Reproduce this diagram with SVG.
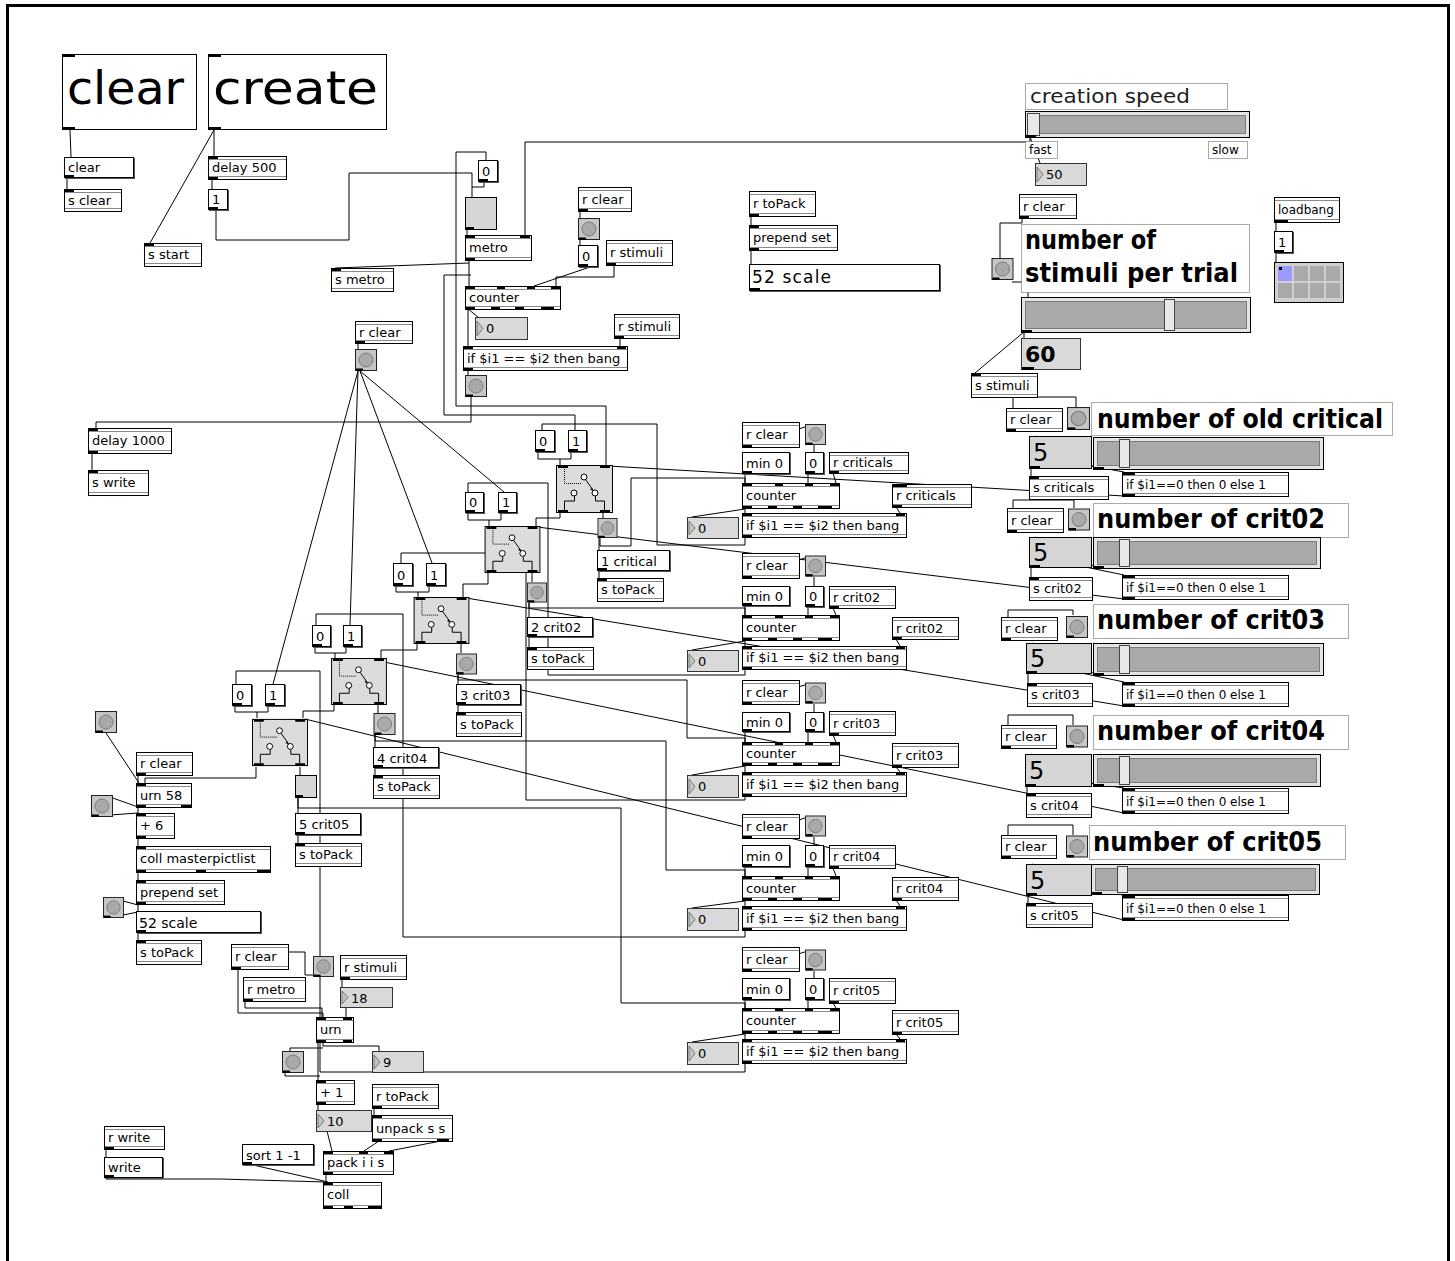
<svg xmlns="http://www.w3.org/2000/svg" xmlns:xlink="http://www.w3.org/1999/xlink" width="1455" height="1261" viewBox="0 0 1455 1261">
<defs>
<style>
text{font-family:"DejaVu Sans","Liberation Sans",sans-serif;font-size:13px;fill:#000}
.o{fill:#fff;stroke:#000}
.d{stroke:#8a8a8a;fill:none}
.io{fill:#000}
.m{fill:#fff;stroke:#000}
.sh{fill:#555}
.n{fill:#d9d9d9;stroke:#333}
.tr{fill:#c4c4c4;stroke:#777}
.c{fill:#fff;stroke:#555;stroke-dasharray:1 1}
.w{fill:none;stroke:#000;stroke-width:1}
.big{font-size:26px;font-weight:bold}
.s12{font-size:12px}
.f46{font-size:46px}
.f20{font-size:20px;fill:#222}
.f17{font-size:17px}
.f22{font-size:22px;font-weight:bold}
.f24{font-size:24px}
.f14{font-size:14px}
.sl{fill:#e4e4e4;stroke:#000}
.si{fill:#a9a9a9;stroke:#7a7a7a}
.kn{fill:#e8e8e8;stroke:#444}
.fv{fill:#d5d5d5;stroke:#000}
</style>
<symbol id="bang" viewBox="0 0 22 22" overflow="visible">
<rect x=".5" y=".5" width="21" height="21" fill="#c6c6c6" stroke="#222"/>
<circle cx="11" cy="11" r="7" fill="#a9a9a9" stroke="#7c7c7c"/>
<rect x="1" y="19.5" width="7" height="2.5" fill="#000"/>
</symbol>
<symbol id="gate" viewBox="0 0 57 48" overflow="visible">
<rect x=".5" y=".5" width="56" height="47" fill="#dcdcdc" stroke="#000"/>
<path d="M8.5,4v14.5h17" stroke="#000" stroke-dasharray="1 1" fill="none"/>
<path d="M29.5,14.5L37,25" stroke="#000"/>
<path d="M37.5,26l-3.5-1.5l2,-1.5z" fill="#000"/>
<circle cx="28" cy="12" r="3" fill="#fff" stroke="#000"/>
<circle cx="18" cy="28" r="3" fill="#fff" stroke="#000"/>
<circle cx="39" cy="28" r="3" fill="#fff" stroke="#000"/>
<path d="M18.5,31v5h-10v9M39.5,31v5h9v9" stroke="#000" fill="none"/>
<path d="M2,0h10v3h-10zM44,0h10v3h-10zM2,45h10v3h-10zM44,45h10v3h-10z" fill="#000"/>
</symbol>
</defs>
<rect width="1455" height="1261" fill="#fff"/>
<rect x="7.5" y="5.5" width="1441" height="1300" fill="none" stroke="#000" stroke-width="3"/>

<g id="connectors" class="w">
<polyline points="70,130 71,157"/>
<polyline points="67,178 67,189"/>
<polyline points="214,130 214,156"/>
<polyline points="214,130 150,243"/>
<polyline points="212,179 212,189"/>
<polyline points="216,210 216,240 349,240 349,173 472,173 472,197"/>
<polyline points="484,182 484,187 472,187"/>
<polyline points="456,406 456,152 486,152 486,160"/>
<polyline points="467,229 467,235"/>
<polyline points="525,235 525,142 1030,142 1030,137"/>
<polyline points="1030,137 1040,163"/>
<polyline points="469,260 469,286"/>
<polyline points="469,263 335,268"/>
<polyline points="471,275 444,275 444,415 575,415 575,430"/>
<polyline points="456,406 606,406 606,465"/>
<polyline points="580,211 580,218"/>
<polyline points="580,240 580,245"/>
<polyline points="590,267 534,286"/>
<polyline points="614,265 614,277 556,277 556,286"/>
<polyline points="468,309 478,317"/>
<polyline points="468,309 468,346"/>
<polyline points="620,338 620,346"/>
<polyline points="468,370 468,375"/>
<polyline points="471,397 471,422 96,422 96,428"/>
<polyline points="92,453 92,470"/>
<polyline points="358,343 358,349"/>
<polyline points="358,371 273,684"/>
<polyline points="358,371 350,625"/>
<polyline points="360,371 432,563"/>
<polyline points="360,371 504,492"/>
<polyline points="751,216 751,225"/>
<polyline points="751,250 751,264"/>
<polyline points="1022,218 1022,223 1000,223 1000,258"/>
<polyline points="1012,282 1028,282 1028,297"/>
<polyline points="1024,332 975,373"/>
<polyline points="1024,332 1024,338"/>
<polyline points="1276,222 1276,231"/>
<polyline points="1276,253 1276,262"/>
<polyline points="538,452 538,459 560,459 560,465"/>
<polyline points="571,452 571,459 560,459"/>
<polyline points="468,513 468,520 489,520 489,526"/>
<polyline points="501,513 501,520 489,520"/>
<polyline points="396,586 396,592 418,592 418,597"/>
<polyline points="429,586 429,592 418,592"/>
<polyline points="315,647 315,653 335,653 335,658"/>
<polyline points="346,647 346,653 335,653"/>
<polyline points="235,706 235,712 257,712 257,718"/>
<polyline points="268,706 268,712 257,712"/>
<polyline points="560,513 560,518 536,518 536,526"/>
<polyline points="488,573 488,584 463,584 463,597"/>
<polyline points="417,644 417,650 381,650 381,658"/>
<polyline points="334,705 334,711 303,711 303,718"/>
<polyline points="256,767 256,778 145,778 145,783"/>
<polyline points="603,513 603,518"/>
<polyline points="599,538 599,550"/>
<polyline points="599,571 599,578"/>
<polyline points="532,573 532,582"/>
<polyline points="529,603 529,617"/>
<polyline points="529,637 529,647"/>
<polyline points="461,644 461,653"/>
<polyline points="458,675 458,684"/>
<polyline points="458,705 458,712"/>
<polyline points="378,705 378,713"/>
<polyline points="375,735 375,747"/>
<polyline points="375,768 375,775"/>
<polyline points="300,767 300,775"/>
<polyline points="298,797 298,813"/>
<polyline points="298,835 298,843"/>
<polyline points="600,538 600,546 631,546 631,478 745,478 745,483"/>
<polyline points="529,603 529,608 745,608 745,615"/>
<polyline points="458,675 458,680 687,680 687,738 745,738 745,742"/>
<polyline points="375,735 375,741 666,741 666,870 745,870 745,876"/>
<polyline points="298,797 298,808 621,808 621,1003 745,1003 745,1008"/>
<polyline points="745,537 745,545 657,545 657,424 542,424 542,430"/>
<polyline points="745,669 745,675 548,675 548,483 468,483 468,492"/>
<polyline points="745,796 745,800 526,800 526,553 401,553 401,563"/>
<polyline points="745,930 745,937 403,937 403,614 316,614 316,625"/>
<polyline points="745,1063 745,1072 320,1072 320,671 236,671 236,684"/>
<polyline points="1124,496 608,466"/>
<polyline points="1124,599 537,527"/>
<polyline points="1124,706 466,598"/>
<polyline points="1124,813 384,662"/>
<polyline points="1124,920 305,719"/>
<polyline points="746,446 808,426"/><polyline points="814,445 814,452"/><polyline points="808,474 808,483"/><polyline points="745,474 745,483"/><polyline points="833,473 836,483"/><polyline points="745,508 745,513"/><polyline points="745,509 692,517"/><polyline points="896,507 900,513"/>
<polyline points="746,577 808,557"/><polyline points="814,577 814,586"/><polyline points="808,607 808,615"/><polyline points="745,606 745,615"/><polyline points="833,608 836,615"/><polyline points="745,640 745,646"/><polyline points="745,641 692,650"/><polyline points="896,639 900,646"/>
<polyline points="746,703 808,684"/><polyline points="814,704 814,712"/><polyline points="808,732 808,742"/><polyline points="745,732 745,742"/><polyline points="833,735 836,742"/><polyline points="745,765 745,772"/><polyline points="745,766 692,775"/><polyline points="896,767 900,772"/>
<polyline points="746,837 808,817"/><polyline points="814,837 814,845"/><polyline points="808,867 808,876"/><polyline points="745,867 745,876"/><polyline points="833,868 836,876"/><polyline points="745,900 745,906"/><polyline points="745,901 692,908"/><polyline points="896,900 900,906"/>
<polyline points="746,970 808,951"/><polyline points="814,971 814,978"/><polyline points="808,1000 808,1008"/><polyline points="745,1000 745,1008"/><polyline points="833,1003 836,1008"/><polyline points="745,1033 745,1039"/><polyline points="745,1034 692,1042"/><polyline points="896,1034 900,1039"/>
<polyline points="1013,431 1013,397 1076,397 1076,407"/>
<polyline points="1013,532 1013,500 1074,500 1074,508"/>
<polyline points="1008,640 1008,610 1073,610 1073,615"/>
<polyline points="1008,748 1008,715 1073,715 1073,725"/>
<polyline points="1008,858 1008,825 1073,825 1073,835"/>
<polyline points="1096,468 1035,436"/><polyline points="1031,468 1031,476"/><polyline points="1037,456 1124,472"/>
<polyline points="1096,567 1035,537"/><polyline points="1031,567 1031,577"/><polyline points="1037,557 1124,575"/>
<polyline points="1096,674 1032,643"/><polyline points="1028,673 1028,683"/><polyline points="1034,663 1124,682"/>
<polyline points="1096,785 1031,754"/><polyline points="1027,786 1027,793"/><polyline points="1033,775 1124,788"/>
<polyline points="1094,893 1032,864"/><polyline points="1028,895 1028,903"/><polyline points="1034,884 1124,895"/>
<polyline points="106,733 139,783"/>
<polyline points="138,775 138,783"/>
<polyline points="138,807 110,797"/>
<polyline points="110,815 138,813"/>
<polyline points="138,807 138,813"/>
<polyline points="138,838 138,846"/>
<polyline points="138,872 138,880"/>
<polyline points="138,904 138,911"/>
<polyline points="123,901 138,905"/>
<polyline points="123,915 138,912"/>
<polyline points="138,933 138,940"/>
<polyline points="238,969 238,1013 323,1013 323,1017"/>
<polyline points="288,952 305,952 305,975 313,975"/>
<polyline points="245,1001 245,1008 322,1008 322,1017"/>
<polyline points="342,979 342,987"/>
<polyline points="346,1007 346,1017"/>
<polyline points="323,1042 323,1046 379,1046 379,1051"/>
<polyline points="290,1051 290,1048 323,1048"/>
<polyline points="285,1073 285,1076 320,1076"/>
<polyline points="318,1042 318,1080"/>
<polyline points="318,1104 318,1110"/>
<polyline points="327,1131 332,1151"/>
<polyline points="374,1108 374,1115"/>
<polyline points="379,1141 364,1151"/>
<polyline points="441,1141 389,1151"/>
<polyline points="326,1174 326,1182"/>
<polyline points="253,1165 328,1182"/>
<polyline points="106,1149 106,1157"/>
<polyline points="106,1179 220,1179 326,1182"/>
</g>

<g id="n_clearbig"><rect class="m" x="62.5" y="54.5" width="134" height="75"/><path class="io" d="M63,55h12v2h-12zM63,127h12v3h-12z"/><text x="67" y="104" class="f46" textLength="117" lengthAdjust="spacingAndGlyphs">clear</text></g>
<g id="n_createbig"><rect class="m" x="208.5" y="54.5" width="178" height="75"/><path class="io" d="M209,55h12v2h-12zM209,127h12v3h-12z"/><text x="213" y="104" class="f46" textLength="165" lengthAdjust="spacingAndGlyphs">create</text></g>
<g id="n_clearmsg"><rect class="sh" x="65" y="158" width="70" height="21"/><rect class="m" x="64.5" y="157.5" width="69" height="20"/><path class="io" d="M65,175h9v3h-9z"/><text x="68" y="172">clear</text></g>
<g id="n_sclear"><rect class="o" x="64.5" y="189.5" width="57" height="22"/><path class="d" d="M65,192.5h56M65,208.5h56"/><path class="io" d="M65,190h9v2h-9z"/><text x="68" y="205">s clear</text></g>
<g id="n_delay500"><rect class="o" x="208.5" y="156.5" width="78" height="23"/><path class="d" d="M209,159.5h77M209,176.5h77"/><path class="io" d="M209,157h9v2h-9zM209,177h9v3h-9z"/><text x="212" y="172">delay 500</text></g>
<g id="n_one"><rect class="sh" x="209" y="190" width="20" height="21"/><rect class="m" x="208.5" y="189.5" width="19" height="20"/><path class="io" d="M209,207h9v3h-9z"/><text x="212" y="204">1</text></g>
<g id="n_sstart"><rect class="o" x="144.5" y="243.5" width="57" height="23"/><path class="d" d="M145,246.5h56M145,263.5h56"/><path class="io" d="M145,244h9v2h-9z"/><text x="148" y="259">s start</text></g>
<g id="n_smetro"><rect class="o" x="331.5" y="268.5" width="62" height="23"/><path class="d" d="M332,271.5h61M332,288.5h61"/><path class="io" d="M332,269h9v2h-9z"/><text x="335" y="284">s metro</text></g>

<g id="n_zero1"><rect class="sh" x="479" y="161" width="20" height="22"/><rect class="m" x="478.5" y="160.5" width="19" height="21"/><path class="io" d="M479,179h9v3h-9z"/><text x="482" y="176">0</text></g>
<g id="n_toggle"><rect x="465.5" y="197.5" width="31" height="32" fill="#d6d6d6" stroke="#000"/><path class="io" d="M466,227h8v3h-8z"/></g>
<g id="n_metro"><rect class="o" x="465.5" y="235.5" width="66" height="25"/><path class="d" d="M466,238.5h65M466,257.5h65"/><path class="io" d="M466,236h9v2h-9zM520,236h10v2h-10zM466,258h9v3h-9z"/><text x="469" y="252">metro</text></g>
<g id="n_rclear1"><rect class="o" x="578.5" y="187.5" width="53" height="24"/><path class="d" d="M579,190.5h52M579,208.5h52"/><path class="io" d="M579,209h9v3h-9z"/><text x="582" y="204">r clear</text></g>
<g id="n_bang1"><use href="#bang" x="578" y="218" width="22" height="22"/></g>
<g id="n_zero2"><rect class="sh" x="579" y="246" width="20" height="22"/><rect class="m" x="578.5" y="245.5" width="19" height="21"/><path class="io" d="M579,264h9v3h-9z"/><text x="582" y="261">0</text></g>
<g id="n_rstim1"><rect class="o" x="606.5" y="240.5" width="66" height="25"/><path class="d" d="M607,243.5h65M607,262.5h65"/><path class="io" d="M607,263h9v3h-9z"/><text x="610" y="257">r stimuli</text></g>
<g id="n_counter0"><rect class="o" x="465.5" y="286.5" width="95" height="23"/><path class="d" d="M466,289.5h94M466,306.5h94"/><path class="io" d="M466,287h9v2h-9zM497,287h8v2h-8zM527,287h8v2h-8zM551,287h9v2h-9zM466,307h9v3h-9zM491,307h9v3h-9zM515,307h9v3h-9zM541,307h13v3h-13z"/><text x="469" y="302">counter</text></g>
<g id="n_num0"><rect class="n" x="475.5" y="317.5" width="52" height="22"/><path class="tr" d="M477,321L483,328.5L477,336z"/><text x="486" y="333">0</text></g>
<g id="n_rstim2"><rect class="o" x="614.5" y="314.5" width="65" height="24"/><path class="d" d="M615,317.5h64M615,335.5h64"/><path class="io" d="M615,336h9v3h-9z"/><text x="618" y="331">r stimuli</text></g>
<g id="n_if0"><rect class="o" x="463.5" y="346.5" width="164" height="24"/><path class="d" d="M464,349.5h163M464,367.5h163"/><path class="io" d="M464,347h9v2h-9zM617,347h9v2h-9zM464,368h9v3h-9z"/><text x="467" y="363">if $i1 == $i2 then bang</text></g>
<g id="n_bang2"><use href="#bang" x="465" y="375" width="22" height="22"/></g>
<g id="n_rclear2"><rect class="o" x="355.5" y="321.5" width="57" height="22"/><path class="d" d="M356,324.5h56M356,340.5h56"/><path class="io" d="M356,341h9v3h-9z"/><text x="359" y="337">r clear</text></g>
<g id="n_bang3"><use href="#bang" x="355" y="349" width="22" height="22"/></g>
<g id="n_delay1000"><rect class="o" x="88.5" y="428.5" width="83" height="25"/><path class="d" d="M89,431.5h82M89,450.5h82"/><path class="io" d="M89,429h9v2h-9zM89,451h9v3h-9z"/><text x="92" y="445">delay 1000</text></g>
<g id="n_swrite"><rect class="o" x="88.5" y="470.5" width="60" height="25"/><path class="d" d="M89,473.5h59M89,492.5h59"/><path class="io" d="M89,471h9v2h-9z"/><text x="92" y="487">s write</text></g>

<g id="n_rtopack1"><rect class="o" x="749.5" y="191.5" width="66" height="25"/><path class="d" d="M750,194.5h65M750,213.5h65"/><path class="io" d="M750,214h9v3h-9z"/><text x="753" y="208">r toPack</text></g>
<g id="n_prepend1"><rect class="o" x="749.5" y="225.5" width="88" height="25"/><path class="d" d="M750,228.5h87M750,247.5h87"/><path class="io" d="M750,226h9v2h-9zM750,248h9v3h-9z"/><text x="753" y="242">prepend set</text></g>
<g id="n_52scale1"><rect class="sh" x="750" y="265" width="191" height="27"/><rect class="m" x="749.5" y="264.5" width="190" height="26"/><path class="io" d="M750,288h10v3h-10z"/><text x="752" y="283" class="f17" textLength="79">52 scale</text></g>

<g id="n_cspeed"><rect class="c" x="1025.5" y="83.5" width="202" height="26"/><text x="1030" y="103" class="f20" textLength="160" lengthAdjust="spacingAndGlyphs">creation speed</text></g>
<g id="n_slider0"><rect class="sl" x="1025.5" y="111.5" width="224" height="26"/><rect class="si" x="1029.5" y="115.5" width="216" height="18"/><rect class="kn" x="1027.5" y="113.5" width="12" height="22"/><path class="io" d="M1026,135h10v3h-10z"/></g>
<g id="n_fast"><rect class="c" x="1025.5" y="141.5" width="32" height="17"/><text x="1029" y="154" class="s12">fast</text></g>
<g id="n_slow"><rect class="c" x="1208.5" y="141.5" width="39" height="17"/><text x="1212" y="154" class="s12">slow</text></g>
<g id="n_num50"><rect class="n" x="1035.5" y="163.5" width="51" height="22"/><path class="tr" d="M1037,167L1043,174.5L1037,182z"/><text x="1046" y="179">50</text></g>
<g id="n_rclear3"><rect class="o" x="1019.5" y="194.5" width="57" height="24"/><path class="d" d="M1020,197.5h56M1020,215.5h56"/><path class="io" d="M1020,216h9v3h-9z"/><text x="1023" y="211">r clear</text></g>
<g id="n_bang4"><use href="#bang" x="991" y="258" width="23" height="22"/></g>
<g id="n_nstim"><rect class="c" x="1021.5" y="224.5" width="228" height="68"/><text x="1025" y="249" class="big" textLength="131" lengthAdjust="spacingAndGlyphs">number of</text><text x="1025" y="282" class="big" textLength="213" lengthAdjust="spacingAndGlyphs">stimuli per trial</text></g>
<g id="n_slider1"><rect class="sl" x="1021.5" y="297.5" width="229" height="35"/><rect class="si" x="1025.5" y="301.5" width="221" height="27"/><rect class="kn" x="1164.5" y="299.5" width="10" height="31"/><path class="io" d="M1022,330h10v3h-10z"/></g>
<g id="n_num60"><rect class="n" x="1021.5" y="338.5" width="59" height="31"/><text x="1025" y="362" class="f22">60</text><path class="io" d="M1022,367h12v3h-12z"/></g>
<g id="n_sstim"><rect class="o" x="971.5" y="373.5" width="66" height="24"/><path class="d" d="M972,376.5h65M972,394.5h65"/><path class="io" d="M972,374h9v2h-9z"/><text x="975" y="390">s stimuli</text></g>
<g id="n_loadbang"><rect class="o" x="1274.5" y="197.5" width="65" height="25"/><path class="d" d="M1275,200.5h64M1275,219.5h64"/><path class="io" d="M1275,220h13v3h-13z"/><text x="1278" y="214" class="s12">loadbang</text></g>
<g id="n_one2"><rect class="sh" x="1275" y="232" width="19" height="22"/><rect class="m" x="1274.5" y="231.5" width="18" height="21"/><path class="io" d="M1275,250h9v3h-9z"/><text x="1278" y="247">1</text></g>
<g id="n_matrix"><rect x="1274.5" y="262.5" width="69" height="40" fill="#cfcfcf" stroke="#000"/>
<rect x="1278" y="266" width="14" height="15" fill="#9a9aff"/><rect x="1294" y="266" width="14" height="15" fill="#a9a9a9"/><rect x="1310" y="266" width="14" height="15" fill="#a9a9a9"/><rect x="1326" y="266" width="14" height="15" fill="#a9a9a9"/>
<rect x="1278" y="283" width="14" height="15" fill="#a9a9a9"/><rect x="1294" y="283" width="14" height="15" fill="#a9a9a9"/><rect x="1310" y="283" width="14" height="15" fill="#a9a9a9"/><rect x="1326" y="283" width="14" height="15" fill="#a9a9a9"/>
<rect x="1279" y="267" width="3" height="3" fill="#000"/></g>

<g id="n_r1_rclear"><rect class="o" x="1006.5" y="408.5" width="56" height="23"/><path class="d" d="M1007,411.5h55M1007,428.5h55"/><path class="io" d="M1007,429h9v3h-9z"/><text x="1010" y="424">r clear</text></g>
<g id="n_r1_bang"><use href="#bang" x="1067" y="407" width="23" height="23"/></g>
<g id="n_r1_cmt"><rect class="c" x="1091.5" y="402.5" width="301" height="33"/><text x="1097" y="428" class="big" textLength="286" lengthAdjust="spacingAndGlyphs">number of old critical</text></g>
<g id="n_r1_five"><rect class="fv" x="1029.5" y="436.5" width="62" height="32"/><text x="1033" y="461" class="f24">5</text><path class="io" d="M1030,466h10v3h-10z"/></g>
<g id="n_r1_slider"><rect class="sl" x="1093.5" y="437.5" width="230" height="32"/><rect class="si" x="1097.5" y="441.5" width="222" height="24"/><rect class="kn" x="1119.5" y="439.5" width="10" height="28"/><path class="io" d="M1094,467h10v3h-10z"/></g>
<g id="n_r1_send"><rect class="o" x="1029.5" y="476.5" width="79" height="23"/><path class="d" d="M1030,479.5h78M1030,496.5h78"/><path class="io" d="M1030,477h9v2h-9z"/><text x="1033" y="492">s criticals</text></g>
<g id="n_r1_if"><rect class="o" x="1122.5" y="472.5" width="166" height="24"/><path class="d" d="M1123,475.5h165M1123,493.5h165"/><path class="io" d="M1123,473h12v2h-12zM1123,494h12v3h-12z"/><text x="1126" y="489" class="s12">if $i1==0 then 0 else 1</text></g>

<g id="n_r2_rclear"><rect class="o" x="1007.5" y="508.5" width="56" height="24"/><path class="d" d="M1008,511.5h55M1008,529.5h55"/><path class="io" d="M1008,530h9v3h-9z"/><text x="1011" y="525">r clear</text></g>
<g id="n_r2_bang"><use href="#bang" x="1068" y="508" width="22" height="23"/></g>
<g id="n_r2_cmt"><rect class="c" x="1093.5" y="503.5" width="255" height="34"/><text x="1097" y="528" class="big" textLength="228" lengthAdjust="spacingAndGlyphs">number of crit02</text></g>
<g id="n_r2_five"><rect class="fv" x="1029.5" y="537.5" width="62" height="30"/><text x="1033" y="561" class="f24">5</text><path class="io" d="M1030,565h10v3h-10z"/></g>
<g id="n_r2_slider"><rect class="sl" x="1093.5" y="537.5" width="227" height="31"/><rect class="si" x="1097.5" y="541.5" width="219" height="23"/><rect class="kn" x="1119.5" y="539.5" width="10" height="27"/><path class="io" d="M1094,566h10v3h-10z"/></g>
<g id="n_r2_send"><rect class="o" x="1029.5" y="577.5" width="63" height="23"/><path class="d" d="M1030,580.5h62M1030,597.5h62"/><path class="io" d="M1030,578h9v2h-9z"/><text x="1033" y="593">s crit02</text></g>
<g id="n_r2_if"><rect class="o" x="1122.5" y="575.5" width="166" height="24"/><path class="d" d="M1123,578.5h165M1123,596.5h165"/><path class="io" d="M1123,576h12v2h-12zM1123,597h12v3h-12z"/><text x="1126" y="592" class="s12">if $i1==0 then 0 else 1</text></g>

<g id="n_r3_rclear"><rect class="o" x="1001.5" y="617.5" width="56" height="23"/><path class="d" d="M1002,620.5h55M1002,637.5h55"/><path class="io" d="M1002,638h9v3h-9z"/><text x="1005" y="633">r clear</text></g>
<g id="n_r3_bang"><use href="#bang" x="1066" y="615" width="22" height="24"/></g>
<g id="n_r3_cmt"><rect class="c" x="1093.5" y="604.5" width="255" height="34"/><text x="1097" y="629" class="big" textLength="228" lengthAdjust="spacingAndGlyphs">number of crit03</text></g>
<g id="n_r3_five"><rect class="fv" x="1026.5" y="643.5" width="65" height="30"/><text x="1030" y="667" class="f24">5</text><path class="io" d="M1027,671h10v3h-10z"/></g>
<g id="n_r3_slider"><rect class="sl" x="1093.5" y="643.5" width="230" height="32"/><rect class="si" x="1097.5" y="647.5" width="222" height="24"/><rect class="kn" x="1119.5" y="645.5" width="10" height="28"/><path class="io" d="M1094,673h10v3h-10z"/></g>
<g id="n_r3_send"><rect class="o" x="1027.5" y="683.5" width="65" height="23"/><path class="d" d="M1028,686.5h64M1028,703.5h64"/><path class="io" d="M1028,684h9v2h-9z"/><text x="1031" y="699">s crit03</text></g>
<g id="n_r3_if"><rect class="o" x="1122.5" y="682.5" width="166" height="24"/><path class="d" d="M1123,685.5h165M1123,703.5h165"/><path class="io" d="M1123,683h12v2h-12zM1123,704h12v3h-12z"/><text x="1126" y="699" class="s12">if $i1==0 then 0 else 1</text></g>

<g id="n_r4_rclear"><rect class="o" x="1001.5" y="725.5" width="55" height="23"/><path class="d" d="M1002,728.5h54M1002,745.5h54"/><path class="io" d="M1002,746h9v3h-9z"/><text x="1005" y="741">r clear</text></g>
<g id="n_r4_bang"><use href="#bang" x="1066" y="725" width="22" height="23"/></g>
<g id="n_r4_cmt"><rect class="c" x="1093.5" y="715.5" width="255" height="34"/><text x="1097" y="740" class="big" textLength="228" lengthAdjust="spacingAndGlyphs">number of crit04</text></g>
<g id="n_r4_five"><rect class="fv" x="1025.5" y="754.5" width="66" height="32"/><text x="1029" y="779" class="f24">5</text><path class="io" d="M1026,784h10v3h-10z"/></g>
<g id="n_r4_slider"><rect class="sl" x="1093.5" y="754.5" width="227" height="32"/><rect class="si" x="1097.5" y="758.5" width="219" height="24"/><rect class="kn" x="1119.5" y="756.5" width="10" height="28"/><path class="io" d="M1094,784h10v3h-10z"/></g>
<g id="n_r4_send"><rect class="o" x="1026.5" y="793.5" width="65" height="24"/><path class="d" d="M1027,796.5h64M1027,814.5h64"/><path class="io" d="M1027,794h9v2h-9z"/><text x="1030" y="810">s crit04</text></g>
<g id="n_r4_if"><rect class="o" x="1122.5" y="788.5" width="166" height="25"/><path class="d" d="M1123,791.5h165M1123,810.5h165"/><path class="io" d="M1123,789h12v2h-12zM1123,811h12v3h-12z"/><text x="1126" y="806" class="s12">if $i1==0 then 0 else 1</text></g>

<g id="n_r5_rclear"><rect class="o" x="1001.5" y="835.5" width="55" height="23"/><path class="d" d="M1002,838.5h54M1002,855.5h54"/><path class="io" d="M1002,856h9v3h-9z"/><text x="1005" y="851">r clear</text></g>
<g id="n_r5_bang"><use href="#bang" x="1066" y="835" width="22" height="23"/></g>
<g id="n_r5_cmt"><rect class="c" x="1089.5" y="825.5" width="256" height="34"/><text x="1093" y="851" class="big" textLength="229" lengthAdjust="spacingAndGlyphs">number of crit05</text></g>
<g id="n_r5_five"><rect class="fv" x="1026.5" y="864.5" width="65" height="31"/><text x="1030" y="889" class="f24">5</text><path class="io" d="M1027,893h10v3h-10z"/></g>
<g id="n_r5_slider"><rect class="sl" x="1091.5" y="864.5" width="228" height="30"/><rect class="si" x="1095.5" y="868.5" width="220" height="22"/><rect class="kn" x="1117.5" y="866.5" width="10" height="26"/><path class="io" d="M1092,892h10v3h-10z"/></g>
<g id="n_r5_send"><rect class="o" x="1026.5" y="903.5" width="66" height="24"/><path class="d" d="M1027,906.5h65M1027,924.5h65"/><path class="io" d="M1027,904h9v2h-9z"/><text x="1030" y="920">s crit05</text></g>
<g id="n_r5_if"><rect class="o" x="1122.5" y="895.5" width="166" height="25"/><path class="d" d="M1123,898.5h165M1123,917.5h165"/><path class="io" d="M1123,896h12v2h-12zM1123,918h12v3h-12z"/><text x="1126" y="913" class="s12">if $i1==0 then 0 else 1</text></g>

<g id="n_m1_rclear"><rect class="o" x="742.5" y="422.5" width="57" height="25"/><path class="d" d="M743,425.5h56M743,444.5h56"/><path class="io" d="M743,445h9v3h-9z"/><text x="746" y="439">r clear</text></g>
<g id="n_m1_bang"><use href="#bang" x="805" y="424" width="21" height="21"/></g>
<g id="n_m1_min"><rect class="sh" x="743" y="453" width="48" height="22"/><rect class="m" x="742.5" y="452.5" width="47" height="21"/><path class="io" d="M743,471h9v3h-9z"/><text x="746" y="468">min 0</text></g>
<g id="n_m1_zero"><rect class="sh" x="806" y="453" width="19" height="22"/><rect class="m" x="805.5" y="452.5" width="18" height="21"/><path class="io" d="M806,471h9v3h-9z"/><text x="809" y="468">0</text></g>
<g id="n_m1_r"><rect class="o" x="829.5" y="452.5" width="79" height="21"/><path class="d" d="M830,455.5h78M830,470.5h78"/><path class="io" d="M830,471h9v3h-9z"/><text x="833" y="467">r criticals</text></g>
<g id="n_m1_counter"><rect class="o" x="742.5" y="483.5" width="97" height="25"/><path class="d" d="M743,486.5h96M743,505.5h96"/><path class="io" d="M743,484h9v2h-9zM775,484h8v2h-8zM805,484h8v2h-8zM830,484h9v2h-9zM743,506h9v3h-9zM768,506h9v3h-9zM793,506h9v3h-9zM818,506h14v3h-14z"/><text x="746" y="500">counter</text></g>
<g id="n_m1_r2"><rect class="o" x="892.5" y="484.5" width="79" height="23"/><path class="d" d="M893,487.5h78M893,504.5h78"/><path class="io" d="M893,485h14v2h-14zM893,505h9v3h-9z"/><text x="896" y="500">r criticals</text></g>
<g id="n_m1_if"><rect class="o" x="742.5" y="513.5" width="164" height="24"/><path class="d" d="M743,516.5h163M743,534.5h163"/><path class="io" d="M743,514h9v2h-9zM896,514h9v2h-9zM743,535h9v3h-9z"/><text x="746" y="530">if $i1 == $i2 then bang</text></g>
<g id="n_m1_num"><rect class="n" x="687.5" y="517.5" width="51" height="21"/><path class="tr" d="M689,521L695,528L689,535z"/><text x="698" y="533">0</text></g>

<g id="n_m2_rclear"><rect class="o" x="742.5" y="553.5" width="57" height="25"/><path class="d" d="M743,556.5h56M743,575.5h56"/><path class="io" d="M743,576h9v3h-9z"/><text x="746" y="570">r clear</text></g>
<g id="n_m2_bang"><use href="#bang" x="805" y="555" width="21" height="22"/></g>
<g id="n_m2_min"><rect class="sh" x="743" y="587" width="48" height="20"/><rect class="m" x="742.5" y="586.5" width="47" height="19"/><path class="io" d="M743,603h9v3h-9z"/><text x="746" y="601">min 0</text></g>
<g id="n_m2_zero"><rect class="sh" x="806" y="587" width="19" height="21"/><rect class="m" x="805.5" y="586.5" width="18" height="20"/><path class="io" d="M806,604h9v3h-9z"/><text x="809" y="601">0</text></g>
<g id="n_m2_r"><rect class="o" x="829.5" y="586.5" width="66" height="22"/><path class="d" d="M830,589.5h65M830,605.5h65"/><path class="io" d="M830,606h9v3h-9z"/><text x="833" y="602">r crit02</text></g>
<g id="n_m2_counter"><rect class="o" x="742.5" y="615.5" width="97" height="25"/><path class="d" d="M743,618.5h96M743,637.5h96"/><path class="io" d="M743,616h9v2h-9zM775,616h8v2h-8zM805,616h8v2h-8zM830,616h9v2h-9zM743,638h9v3h-9zM768,638h9v3h-9zM793,638h9v3h-9zM818,638h14v3h-14z"/><text x="746" y="632">counter</text></g>
<g id="n_m2_r2"><rect class="o" x="892.5" y="617.5" width="66" height="22"/><path class="d" d="M893,620.5h65M893,636.5h65"/><path class="io" d="M893,637h9v3h-9z"/><text x="896" y="633">r crit02</text></g>
<g id="n_m2_if"><rect class="o" x="742.5" y="646.5" width="164" height="23"/><path class="d" d="M743,649.5h163M743,666.5h163"/><path class="io" d="M743,647h9v2h-9zM896,647h9v2h-9zM743,667h9v3h-9z"/><text x="746" y="662">if $i1 == $i2 then bang</text></g>
<g id="n_m2_num"><rect class="n" x="687.5" y="650.5" width="51" height="21"/><path class="tr" d="M689,654L695,661L689,668z"/><text x="698" y="666">0</text></g>

<g id="n_m3_rclear"><rect class="o" x="742.5" y="680.5" width="57" height="24"/><path class="d" d="M743,683.5h56M743,701.5h56"/><path class="io" d="M743,702h9v3h-9z"/><text x="746" y="697">r clear</text></g>
<g id="n_m3_bang"><use href="#bang" x="805" y="682" width="21" height="22"/></g>
<g id="n_m3_min"><rect class="sh" x="743" y="713" width="48" height="20"/><rect class="m" x="742.5" y="712.5" width="47" height="19"/><path class="io" d="M743,729h9v3h-9z"/><text x="746" y="727">min 0</text></g>
<g id="n_m3_zero"><rect class="sh" x="806" y="713" width="19" height="20"/><rect class="m" x="805.5" y="712.5" width="18" height="19"/><path class="io" d="M806,729h9v3h-9z"/><text x="809" y="727">0</text></g>
<g id="n_m3_r"><rect class="o" x="829.5" y="711.5" width="66" height="24"/><path class="d" d="M830,714.5h65M830,732.5h65"/><path class="io" d="M830,733h9v3h-9z"/><text x="833" y="728">r crit03</text></g>
<g id="n_m3_counter"><rect class="o" x="742.5" y="742.5" width="97" height="23"/><path class="d" d="M743,745.5h96M743,762.5h96"/><path class="io" d="M743,743h9v2h-9zM775,743h8v2h-8zM805,743h8v2h-8zM830,743h9v2h-9zM743,763h9v3h-9zM768,763h9v3h-9zM793,763h9v3h-9zM818,763h14v3h-14z"/><text x="746" y="758">counter</text></g>
<g id="n_m3_r2"><rect class="o" x="892.5" y="743.5" width="66" height="24"/><path class="d" d="M893,746.5h65M893,764.5h65"/><path class="io" d="M893,765h9v3h-9z"/><text x="896" y="760">r crit03</text></g>
<g id="n_m3_if"><rect class="o" x="742.5" y="772.5" width="164" height="24"/><path class="d" d="M743,775.5h163M743,793.5h163"/><path class="io" d="M743,773h9v2h-9zM896,773h9v2h-9zM743,794h9v3h-9z"/><text x="746" y="789">if $i1 == $i2 then bang</text></g>
<g id="n_m3_num"><rect class="n" x="687.5" y="775.5" width="51" height="22"/><path class="tr" d="M689,779L695,786.5L689,794z"/><text x="698" y="791">0</text></g>

<g id="n_m4_rclear"><rect class="o" x="742.5" y="814.5" width="57" height="24"/><path class="d" d="M743,817.5h56M743,835.5h56"/><path class="io" d="M743,836h9v3h-9z"/><text x="746" y="831">r clear</text></g>
<g id="n_m4_bang"><use href="#bang" x="805" y="815" width="21" height="22"/></g>
<g id="n_m4_min"><rect class="sh" x="743" y="846" width="48" height="22"/><rect class="m" x="742.5" y="845.5" width="47" height="21"/><path class="io" d="M743,864h9v3h-9z"/><text x="746" y="861">min 0</text></g>
<g id="n_m4_zero"><rect class="sh" x="806" y="846" width="19" height="22"/><rect class="m" x="805.5" y="845.5" width="18" height="21"/><path class="io" d="M806,864h9v3h-9z"/><text x="809" y="861">0</text></g>
<g id="n_m4_r"><rect class="o" x="829.5" y="845.5" width="66" height="23"/><path class="d" d="M830,848.5h65M830,865.5h65"/><path class="io" d="M830,866h9v3h-9z"/><text x="833" y="861">r crit04</text></g>
<g id="n_m4_counter"><rect class="o" x="742.5" y="876.5" width="97" height="24"/><path class="d" d="M743,879.5h96M743,897.5h96"/><path class="io" d="M743,877h9v2h-9zM775,877h8v2h-8zM805,877h8v2h-8zM830,877h9v2h-9zM743,898h9v3h-9zM768,898h9v3h-9zM793,898h9v3h-9zM818,898h14v3h-14z"/><text x="746" y="893">counter</text></g>
<g id="n_m4_r2"><rect class="o" x="892.5" y="877.5" width="66" height="23"/><path class="d" d="M893,880.5h65M893,897.5h65"/><path class="io" d="M893,898h9v3h-9z"/><text x="896" y="893">r crit04</text></g>
<g id="n_m4_if"><rect class="o" x="742.5" y="906.5" width="164" height="24"/><path class="d" d="M743,909.5h163M743,927.5h163"/><path class="io" d="M743,907h9v2h-9zM896,907h9v2h-9zM743,928h9v3h-9z"/><text x="746" y="923">if $i1 == $i2 then bang</text></g>
<g id="n_m4_num"><rect class="n" x="687.5" y="908.5" width="51" height="22"/><path class="tr" d="M689,912L695,919.5L689,927z"/><text x="698" y="924">0</text></g>

<g id="n_m5_rclear"><rect class="o" x="742.5" y="947.5" width="57" height="24"/><path class="d" d="M743,950.5h56M743,968.5h56"/><path class="io" d="M743,969h9v3h-9z"/><text x="746" y="964">r clear</text></g>
<g id="n_m5_bang"><use href="#bang" x="805" y="949" width="21" height="22"/></g>
<g id="n_m5_min"><rect class="sh" x="743" y="979" width="48" height="22"/><rect class="m" x="742.5" y="978.5" width="47" height="21"/><path class="io" d="M743,997h9v3h-9z"/><text x="746" y="994">min 0</text></g>
<g id="n_m5_zero"><rect class="sh" x="806" y="979" width="19" height="22"/><rect class="m" x="805.5" y="978.5" width="18" height="21"/><path class="io" d="M806,997h9v3h-9z"/><text x="809" y="994">0</text></g>
<g id="n_m5_r"><rect class="o" x="829.5" y="978.5" width="66" height="25"/><path class="d" d="M830,981.5h65M830,1000.5h65"/><path class="io" d="M830,1001h9v3h-9z"/><text x="833" y="995">r crit05</text></g>
<g id="n_m5_counter"><rect class="o" x="742.5" y="1008.5" width="97" height="25"/><path class="d" d="M743,1011.5h96M743,1030.5h96"/><path class="io" d="M743,1009h9v2h-9zM775,1009h8v2h-8zM805,1009h8v2h-8zM830,1009h9v2h-9zM743,1031h9v3h-9zM768,1031h9v3h-9zM793,1031h9v3h-9zM818,1031h14v3h-14z"/><text x="746" y="1025">counter</text></g>
<g id="n_m5_r2"><rect class="o" x="892.5" y="1010.5" width="66" height="24"/><path class="d" d="M893,1013.5h65M893,1031.5h65"/><path class="io" d="M893,1032h9v3h-9z"/><text x="896" y="1027">r crit05</text></g>
<g id="n_m5_if"><rect class="o" x="742.5" y="1039.5" width="164" height="24"/><path class="d" d="M743,1042.5h163M743,1060.5h163"/><path class="io" d="M743,1040h9v2h-9zM896,1040h9v2h-9zM743,1061h9v3h-9z"/><text x="746" y="1056">if $i1 == $i2 then bang</text></g>
<g id="n_m5_num"><rect class="n" x="687.5" y="1042.5" width="51" height="22"/><path class="tr" d="M689,1046L695,1053.5L689,1061z"/><text x="698" y="1058">0</text></g>

<g id="n_gA"><use href="#gate" x="556" y="465" width="57" height="48"/></g>
<g id="n_gA0"><rect class="sh" x="536" y="431" width="20" height="22"/><rect class="m" x="535.5" y="430.5" width="19" height="21"/><path class="io" d="M536,449h9v3h-9z"/><text x="539" y="446">0</text></g>
<g id="n_gA1"><rect class="sh" x="569" y="431" width="19" height="22"/><rect class="m" x="568.5" y="430.5" width="18" height="21"/><path class="io" d="M569,449h9v3h-9z"/><text x="572" y="446">1</text></g>
<g id="n_gAbang"><use href="#bang" x="597" y="518" width="21" height="20"/></g>
<g id="n_gAmsg"><rect class="sh" x="598" y="551" width="73" height="21"/><rect class="m" x="597.5" y="550.5" width="72" height="20"/><path class="io" d="M598,568h9v3h-9z"/><text x="601" y="566">1 critical</text></g>
<g id="n_gAsend"><rect class="o" x="597.5" y="578.5" width="66" height="23"/><path class="d" d="M598,581.5h65M598,598.5h65"/><path class="io" d="M598,579h9v2h-9z"/><text x="601" y="594">s toPack</text></g>

<g id="n_gB"><use href="#gate" x="484" y="526" width="57" height="47"/></g>
<g id="n_gB0"><rect class="sh" x="466" y="493" width="19" height="21"/><rect class="m" x="465.5" y="492.5" width="18" height="20"/><path class="io" d="M466,510h9v3h-9z"/><text x="469" y="507">0</text></g>
<g id="n_gB1"><rect class="sh" x="499" y="493" width="19" height="21"/><rect class="m" x="498.5" y="492.5" width="18" height="20"/><path class="io" d="M499,510h9v3h-9z"/><text x="502" y="507">1</text></g>
<g id="n_gBbang"><use href="#bang" x="527" y="582" width="20" height="21"/></g>
<g id="n_gBmsg"><rect class="sh" x="528" y="618" width="66" height="20"/><rect class="m" x="527.5" y="617.5" width="65" height="19"/><path class="io" d="M528,634h9v3h-9z"/><text x="531" y="632">2 crit02</text></g>
<g id="n_gBsend"><rect class="o" x="527.5" y="647.5" width="66" height="22"/><path class="d" d="M528,650.5h65M528,666.5h65"/><path class="io" d="M528,648h9v2h-9z"/><text x="531" y="663">s toPack</text></g>

<g id="n_gC"><use href="#gate" x="413" y="597" width="57" height="47"/></g>
<g id="n_gC0"><rect class="sh" x="394" y="564" width="20" height="23"/><rect class="m" x="393.5" y="563.5" width="19" height="22"/><path class="io" d="M394,583h9v3h-9z"/><text x="397" y="580">0</text></g>
<g id="n_gC1"><rect class="sh" x="427" y="564" width="20" height="23"/><rect class="m" x="426.5" y="563.5" width="19" height="22"/><path class="io" d="M427,583h9v3h-9z"/><text x="430" y="580">1</text></g>
<g id="n_gCbang"><use href="#bang" x="456" y="653" width="21" height="22"/></g>
<g id="n_gCmsg"><rect class="sh" x="457" y="685" width="65" height="21"/><rect class="m" x="456.5" y="684.5" width="64" height="20"/><path class="io" d="M457,702h9v3h-9z"/><text x="460" y="700">3 crit03</text></g>
<g id="n_gCsend"><rect class="o" x="456.5" y="712.5" width="65" height="24"/><path class="d" d="M457,715.5h64M457,733.5h64"/><path class="io" d="M457,713h9v2h-9z"/><text x="460" y="729">s toPack</text></g>

<g id="n_gD"><use href="#gate" x="330" y="658" width="58" height="47"/></g>
<g id="n_gD0"><rect class="sh" x="313" y="626" width="19" height="22"/><rect class="m" x="312.5" y="625.5" width="18" height="21"/><path class="io" d="M313,644h9v3h-9z"/><text x="316" y="641">0</text></g>
<g id="n_gD1"><rect class="sh" x="344" y="626" width="19" height="22"/><rect class="m" x="343.5" y="625.5" width="18" height="21"/><path class="io" d="M344,644h9v3h-9z"/><text x="347" y="641">1</text></g>
<g id="n_gDbang"><use href="#bang" x="373" y="713" width="23" height="22"/></g>
<g id="n_gDmsg"><rect class="sh" x="374" y="748" width="66" height="21"/><rect class="m" x="373.5" y="747.5" width="65" height="20"/><path class="io" d="M374,765h9v3h-9z"/><text x="377" y="763">4 crit04</text></g>
<g id="n_gDsend"><rect class="o" x="373.5" y="775.5" width="66" height="23"/><path class="d" d="M374,778.5h65M374,795.5h65"/><path class="io" d="M374,776h9v2h-9z"/><text x="377" y="791">s toPack</text></g>

<g id="n_gE"><use href="#gate" x="252" y="718" width="56" height="49"/></g>
<g id="n_gE0"><rect class="sh" x="233" y="685" width="20" height="22"/><rect class="m" x="232.5" y="684.5" width="19" height="21"/><path class="io" d="M233,703h9v3h-9z"/><text x="236" y="700">0</text></g>
<g id="n_gE1"><rect class="sh" x="266" y="685" width="20" height="22"/><rect class="m" x="265.5" y="684.5" width="19" height="21"/><path class="io" d="M266,703h9v3h-9z"/><text x="269" y="700">1</text></g>
<g id="n_gEtoggle"><rect x="295.5" y="775.5" width="21" height="22" fill="#d6d6d6" stroke="#000"/><path class="io" d="M296,795h7v3h-7z"/></g>
<g id="n_gEmsg"><rect class="sh" x="296" y="814" width="66" height="22"/><rect class="m" x="295.5" y="813.5" width="65" height="21"/><path class="io" d="M296,832h9v3h-9z"/><text x="299" y="829">5 crit05</text></g>
<g id="n_gEsend"><rect class="o" x="295.5" y="843.5" width="66" height="23"/><path class="d" d="M296,846.5h65M296,863.5h65"/><path class="io" d="M296,844h9v2h-9z"/><text x="299" y="859">s toPack</text></g>

<g id="n_lb_bang1"><use href="#bang" x="95" y="711" width="22" height="22"/></g>
<g id="n_lb_rclear"><rect class="o" x="136.5" y="752.5" width="56" height="23"/><path class="d" d="M137,755.5h55M137,772.5h55"/><path class="io" d="M137,773h9v3h-9z"/><text x="140" y="768">r clear</text></g>
<g id="n_urn58"><rect class="o" x="136.5" y="783.5" width="55" height="24"/><path class="d" d="M137,786.5h54M137,804.5h54"/><path class="io" d="M137,784h9v2h-9zM137,805h9v3h-9zM181,805h10v3h-10z"/><text x="140" y="800">urn 58</text></g>
<g id="n_lb_bang2"><use href="#bang" x="91" y="795" width="22" height="22"/></g>
<g id="n_plus6"><rect class="o" x="136.5" y="813.5" width="38" height="25"/><path class="d" d="M137,816.5h37M137,835.5h37"/><path class="io" d="M137,814h9v2h-9zM137,836h9v3h-9z"/><text x="140" y="830">+ 6</text></g>
<g id="n_coll1"><rect class="o" x="136.5" y="846.5" width="134" height="26"/><path class="d" d="M137,849.5h133M137,869.5h133"/><path class="io" d="M137,847h9v2h-9zM137,870h9v3h-9zM196,870h10v3h-10zM257,870h13v3h-13z"/><text x="140" y="863">coll masterpictlist</text></g>
<g id="n_prepend2"><rect class="o" x="136.5" y="880.5" width="88" height="24"/><path class="d" d="M137,883.5h87M137,901.5h87"/><path class="io" d="M137,881h9v2h-9zM137,902h9v3h-9z"/><text x="140" y="897">prepend set</text></g>
<g id="n_lb_bang3"><use href="#bang" x="103" y="896" width="21" height="23"/></g>
<g id="n_52scale2"><rect class="sh" x="137" y="912" width="125" height="22"/><rect class="m" x="136.5" y="911.5" width="124" height="21"/><path class="io" d="M137,930h9v3h-9z"/><text x="139" y="928" class="f14">52 scale</text></g>
<g id="n_stopack5"><rect class="o" x="136.5" y="940.5" width="65" height="24"/><path class="d" d="M137,943.5h64M137,961.5h64"/><path class="io" d="M137,941h9v2h-9z"/><text x="140" y="957">s toPack</text></g>
<g id="n_rclear9"><rect class="o" x="231.5" y="944.5" width="57" height="25"/><path class="d" d="M232,947.5h56M232,966.5h56"/><path class="io" d="M232,967h9v3h-9z"/><text x="235" y="961">r clear</text></g>
<g id="n_lb_bang4"><use href="#bang" x="313" y="956" width="21" height="21"/></g>
<g id="n_rstim3"><rect class="o" x="340.5" y="955.5" width="66" height="24"/><path class="d" d="M341,958.5h65M341,976.5h65"/><path class="io" d="M341,977h9v3h-9z"/><text x="344" y="972">r stimuli</text></g>
<g id="n_rmetro"><rect class="o" x="243.5" y="977.5" width="62" height="24"/><path class="d" d="M244,980.5h61M244,998.5h61"/><path class="io" d="M244,999h9v3h-9z"/><text x="247" y="994">r metro</text></g>
<g id="n_num18"><rect class="n" x="340.5" y="987.5" width="52" height="20"/><path class="tr" d="M342,991L348,997.5L342,1004z"/><text x="351" y="1003">18</text></g>
<g id="n_urn"><rect class="o" x="316.5" y="1017.5" width="37" height="25"/><path class="d" d="M317,1020.5h36M317,1039.5h36"/><path class="io" d="M317,1018h9v2h-9zM343,1018h9v2h-9zM317,1040h9v3h-9zM343,1040h9v3h-9z"/><text x="320" y="1034">urn</text></g>
<g id="n_lb_bang5"><use href="#bang" x="282" y="1051" width="22" height="22"/></g>
<g id="n_num9"><rect class="n" x="372.5" y="1051.5" width="51" height="21"/><path class="tr" d="M374,1055L380,1062L374,1069z"/><text x="383" y="1067">9</text></g>
<g id="n_plus1"><rect class="o" x="316.5" y="1080.5" width="38" height="24"/><path class="d" d="M317,1083.5h37M317,1101.5h37"/><path class="io" d="M317,1081h9v2h-9zM317,1102h9v3h-9z"/><text x="320" y="1097">+ 1</text></g>
<g id="n_num10"><rect class="n" x="316.5" y="1110.5" width="55" height="21"/><path class="tr" d="M318,1114L324,1121L318,1128z"/><text x="327" y="1126">10</text></g>
<g id="n_rtopack2"><rect class="o" x="372.5" y="1084.5" width="66" height="24"/><path class="d" d="M373,1087.5h65M373,1105.5h65"/><path class="io" d="M373,1106h9v3h-9z"/><text x="376" y="1101">r toPack</text></g>
<g id="n_unpack"><rect class="o" x="372.5" y="1115.5" width="80" height="26"/><path class="d" d="M373,1118.5h79M373,1138.5h79"/><path class="io" d="M373,1116h9v2h-9zM373,1139h9v3h-9zM437,1139h12v3h-12z"/><text x="376" y="1133">unpack s s</text></g>
<g id="n_pack"><rect class="o" x="323.5" y="1151.5" width="70" height="23"/><path class="d" d="M324,1154.5h69M324,1171.5h69"/><path class="io" d="M324,1152h9v2h-9zM359,1152h9v2h-9zM384,1152h9v2h-9zM324,1172h9v3h-9z"/><text x="327" y="1167">pack i i s</text></g>
<g id="n_sort"><rect class="sh" x="243" y="1145" width="72" height="21"/><rect class="m" x="242.5" y="1144.5" width="71" height="20"/><path class="io" d="M243,1162h9v3h-9z"/><text x="246" y="1160">sort 1 -1</text></g>
<g id="n_coll2"><rect class="o" x="323.5" y="1182.5" width="58" height="26"/><path class="d" d="M324,1185.5h57M324,1205.5h57"/><path class="io" d="M324,1183h9v2h-9zM324,1206h9v3h-9zM344,1206h9v3h-9zM368,1206h13v3h-13z"/><text x="327" y="1199">coll</text></g>
<g id="n_rwrite"><rect class="o" x="104.5" y="1126.5" width="60" height="23"/><path class="d" d="M105,1129.5h59M105,1146.5h59"/><path class="io" d="M105,1147h9v3h-9z"/><text x="108" y="1142">r write</text></g>
<g id="n_write"><rect class="sh" x="105" y="1158" width="59" height="21"/><rect class="m" x="104.5" y="1157.5" width="58" height="20"/><path class="io" d="M105,1175h9v3h-9z"/><text x="108" y="1172">write</text></g>
</svg>
